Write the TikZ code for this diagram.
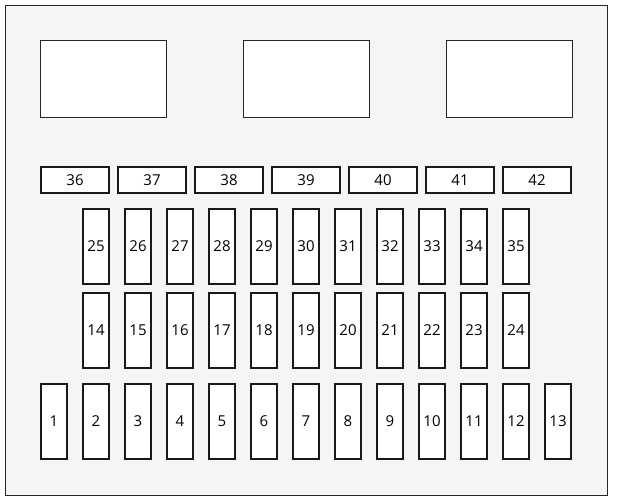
\documentclass[tikz,border=0pt]{standalone}
\usepackage{fontspec}
\setmainfont{Open Sans}
\begin{document}
\begin{tikzpicture}[x=1pt,y=-1pt,
  panel/.style={draw=black!85,line width=1pt,fill=black!4},
  relay/.style={draw=black!85,line width=1pt,fill=white},
  fuse/.style={draw=black!90,line width=2pt,fill=white,font=\fontsize{15}{17}\selectfont},
]
\useasboundingbox (0,0) rectangle (617,503);
\path[panel] (5.5,5.5) rectangle (607.5,495);
\path[relay] (40.5,40.5) rectangle (166,117);
\path[relay] (243.5,40.5) rectangle (369,117);
\path[relay] (446.5,40.5) rectangle (572,117);
% horizontal fuses 36-42
\foreach \i in {0,...,6}{
  \pgfmathtruncatemacro{\n}{36+\i}
  \node[fuse,minimum width=68pt,minimum height=26pt,inner sep=0pt] (f\n) at (75+77*\i,180) {\n};
}
% vertical fuses 25-35
\foreach \i in {0,...,10}{
  \pgfmathtruncatemacro{\n}{25+\i}
  \node[fuse,minimum width=26pt,minimum height=75pt,inner sep=0pt] (f\n) at (96+42*\i,246.5) {\n};
}
% vertical fuses 14-24
\foreach \i in {0,...,10}{
  \pgfmathtruncatemacro{\n}{14+\i}
  \node[fuse,minimum width=26pt,minimum height=75pt,inner sep=0pt] (f\n) at (96+42*\i,330.5) {\n};
}
% vertical fuses 1-13
\foreach \i in {0,...,12}{
  \pgfmathtruncatemacro{\n}{1+\i}
  \node[fuse,minimum width=26pt,minimum height=75pt,inner sep=0pt] (f\n) at (54+42*\i,421.5) {\n};
}
\end{tikzpicture}
\end{document}
